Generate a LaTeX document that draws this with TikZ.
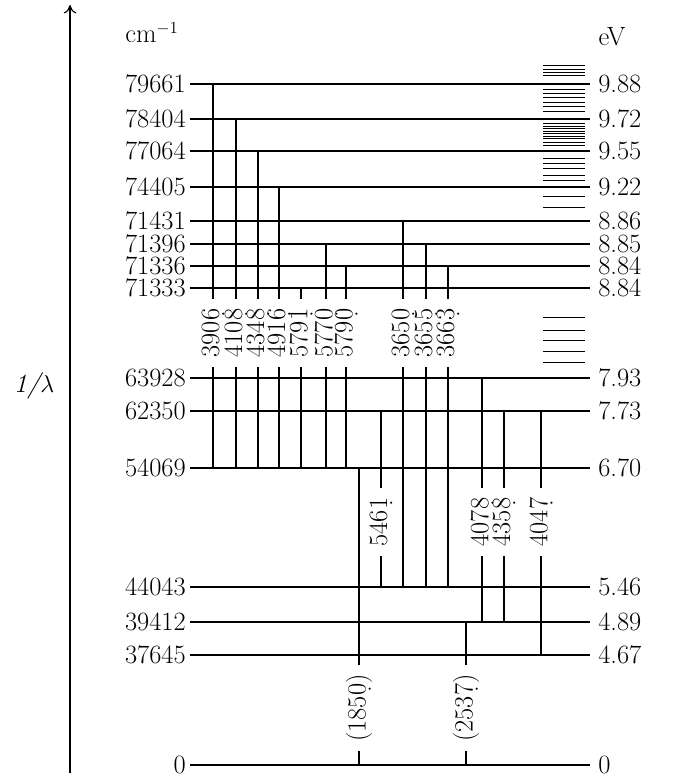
\documentclass[tikz,border=0pt]{standalone}
\usepackage{fontspec}
\usetikzlibrary{arrows.meta,positioning,calc}
\newcommand{\lvlfont}{\fontsize{18.8}{22}\selectfont}
\newcommand{\wl}[2]{#1\rlap{\kern0.12em\raisebox{-0.2em}{.}}#2}
\tikzset{
  level/.style={line width=1.3pt, draw=black},
  trans/.style={line width=0.9pt, draw=black},
  series/.style={line width=0.6pt, draw=black},
  lvllabel/.style={font=\lvlfont, inner sep=0pt},
  wavelabel/.style={font=\lvlfont, rotate=90, inner xsep=7pt, inner ysep=0pt, outer sep=0pt}
}

\begin{document}
\begin{tikzpicture}[x=0.025cm, y=-0.025cm]
  \useasboundingbox (0,0) rectangle (688,777);

  % axis
  \coordinate (axbot) at (70,773);
  \coordinate (axtop) at (70,5);
  \draw[-{To[length=6pt,width=9pt]}, line width=0.8pt] (axbot) -- (axtop);
  \node[lvllabel] (axis) at (34,386) {\itshape 1/$\lambda$};
  \node[lvllabel] (unitcm) at (152,33) {cm$^{-1}$};
  \node[lvllabel] (uniteV) at (612,37) {eV};

  % levels
  \foreach \wn/\ev/\y in {79661/9.88/84, 78404/9.72/119, 77064/9.55/151,
      74405/9.22/187, 71431/8.86/221, 71396/8.85/244, 71336/8.84/266,
      71333/8.84/288, 63928/7.93/378, 62350/7.73/411, 54069/6.70/468,
      44043/5.46/587, 39412/4.89/622, 37645/4.67/655, 0/0/765} {
    \coordinate (L\wn) at (190,\y);
    \coordinate (R\wn) at (590,\y);
    \node[lvllabel, anchor=east] (n\wn) at (186,\y) {\wn};
    \node[lvllabel, anchor=west] (e\wn) at (598,\y) {\ev};
    \draw[level] (L\wn) -- (R\wn);
  }

  % series limit lines
  \foreach \y in {65,69,72,75,89,93,97,102,106,111,123,126,128,131,133,136,
      138,142,145,158,163,168,175,180,196,207,317,330,340,351,362}
    \draw[series] (543,\y) -- (585,\y);

  % transitions
  \foreach \x/\up/\lo/\a/\b/\ly in {213/79661/54069/390/6/333,
      236/78404/54069/410/8/333, 258/77064/54069/434/8/333,
      279/74405/54069/491/6/333, 301/71333/54069/579/1/333,
      326/71396/54069/577/0/333, 346/71336/54069/579/0/333,
      403/71431/44043/365/0/333, 426/71396/44043/365/5/333,
      448/71336/44043/366/3/333, 381/62350/44043/546/1/522,
      482/63928/39412/407/8/522, 504/62350/39412/435/8/522,
      541/62350/37645/404/7/522} {
    \node[wavelabel] (w\a\b) at (\x,\ly) {\wl{\a}{\b}};
    \draw[trans] (L\up -| w\a\b) -- (w\a\b.east);
    \draw[trans] (w\a\b.west) -- (L\lo -| w\a\b);
  }
  \foreach \x/\up/\a/\b in {359/54069/185/0, 466/39412/253/7} {
    \node[wavelabel] (w\a\b) at (\x,708) {(\wl{\a}{\b})};
    \draw[trans] (L\up -| w\a\b) -- (w\a\b.east);
    \draw[trans] (w\a\b.west) -- (L0 -| w\a\b);
  }
\end{tikzpicture}
\end{document}
